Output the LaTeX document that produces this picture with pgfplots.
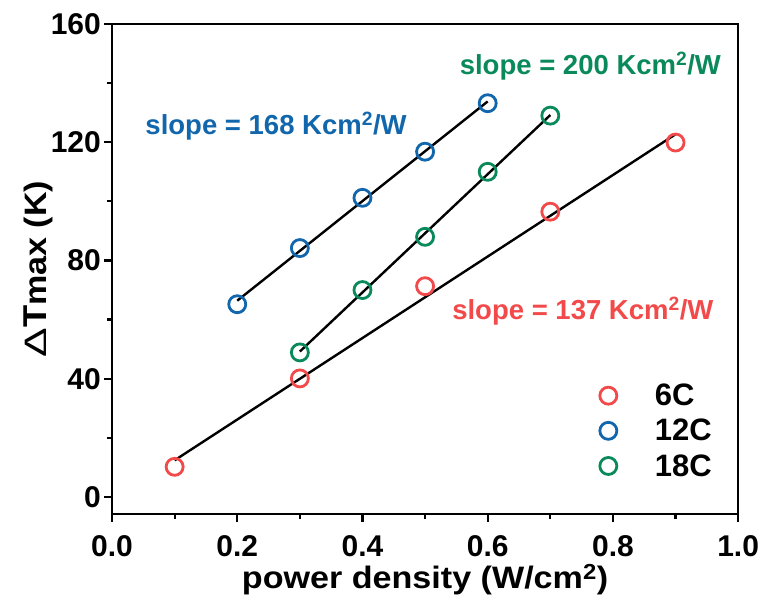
\documentclass[border=0pt]{standalone}
\usepackage{pgfplots}
\pgfplotsset{compat=1.18}
\usepackage{fontspec}
\setmainfont{Liberation Sans}
\definecolor{cred}{RGB}{242,74,74}
\definecolor{cblue}{RGB}{18,102,172}
\definecolor{cgreen}{RGB}{10,138,90}
\begin{document}
\begin{tikzpicture}
\begin{axis}[
  scale only axis,
  width=626pt, height=490pt,
  xmin=0, xmax=1, ymin=-5.8, ymax=160,
  xtick={0,0.2,0.4,0.6,0.8,1.0},
  ytick={0,40,80,120,160},
  minor x tick num=1, minor y tick num=1,
  xtick pos=bottom, ytick pos=left,
  tick align=outside,
  major tick length=8pt, minor tick length=5pt,
  every tick/.style={line width=2.2pt, black},
  axis line style={line width=2.4pt},
  /pgf/number format/assume math mode=true,
  xticklabel style={/pgf/number format/fixed, /pgf/number format/fixed zerofill, /pgf/number format/precision=1, inner sep=2pt, yshift=-11pt},
  yticklabel style={inner sep=2pt, xshift=-1pt},
  ticklabel style={font=\fontsize{30}{32}\selectfont\bfseries},
  xlabel={\scalebox{1.1}[1]{\textbf{power density (W/cm\textsuperscript{2})}}},
  ylabel={\scalebox{1.1}[1]{{\fontsize{31}{30}\selectfont\scalebox{1.3}[1]{Δ}}\textbf{{\fontsize{33}{30}\selectfont T}max (K)}}},
  label style={font=\fontsize{31}{32}\selectfont, inner sep=2pt},
  xlabel style={yshift=-4pt},
  ylabel style={yshift=-6pt},
  legend style={draw=none, fill=none, at={(axis cs:0.774,39.6)}, anchor=north west, font=\fontsize{31}{33}\selectfont\bfseries, row sep=8pt,
    /tikz/every even column/.append style={column sep=0pt}},
  legend image code/.code={\draw[#1] plot coordinates {(0.3cm,0cm)};},
  legend cell align=left,
]
\addplot[only marks, mark=o, mark size=8.5pt, line width=2.8pt, cred] coordinates {(0.1,10.2) (0.3,40.1) (0.5,71.3) (0.7,96.5) (0.9,119.9)};
\addlegendentry{\hspace{36pt}6C}
\addplot[only marks, mark=o, mark size=8.5pt, line width=2.8pt, cblue] coordinates {(0.2,65.2) (0.3,84.2) (0.4,101.2) (0.5,116.8) (0.6,133.2)};
\addlegendentry{\hspace{36pt}12C}
\addplot[only marks, mark=o, mark size=8.5pt, line width=2.8pt, cgreen] coordinates {(0.3,48.9) (0.4,70) (0.5,88) (0.6,110) (0.7,129)};
\addlegendentry{\hspace{36pt}18C}
\addplot[black, line width=2.4pt, forget plot] coordinates {(0.1,12.4) (0.9,122.7)};
\addplot[black, line width=2.4pt, forget plot] coordinates {(0.2,66.4) (0.6,133.8)};
\addplot[black, line width=2.4pt, forget plot] coordinates {(0.3,49.2) (0.7,129.2)};
\node[cblue, font=\fontsize{27.5}{29}\selectfont\bfseries] at (axis cs:0.262,125.4) {slope = 168 Kcm\textsuperscript{2}/W};
\node[cgreen, font=\fontsize{27.5}{29}\selectfont\bfseries] at (axis cs:0.764,145.8) {slope = 200 Kcm\textsuperscript{2}/W};
\node[cred, font=\fontsize{27.5}{29}\selectfont\bfseries] at (axis cs:0.752,62.7) {slope = 137 Kcm\textsuperscript{2}/W};
\end{axis}
\path (current axis.north west) ++(-112pt,24pt);
\path (current axis.south west) ++(0pt,-93pt);
\end{tikzpicture}
\end{document}
